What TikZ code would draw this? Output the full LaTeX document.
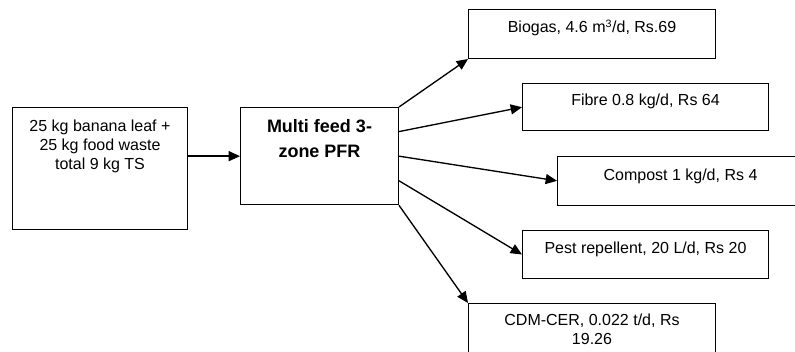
\documentclass[tikz,border=0pt]{standalone}
\usepackage{fontspec}
\setmainfont{Liberation Sans}
\usetikzlibrary{positioning, arrows.meta, calc}

\tikzset{
  box/.style = {draw, rectangle, line width=0.75pt, anchor=north west, inner sep=0pt},
  outbox/.style = {box, minimum width=184.5pt, minimum height=36.5pt},
  txt/.style = {inner sep=0pt, align=center, font=\fontsize{12}{14.25}\selectfont},
  boldtxt/.style = {txt, font=\fontsize{13.5}{18.75}\selectfont\bfseries},
}

\begin{document}
\begin{tikzpicture}[x=0.75pt, y=-0.75pt, >={Triangle[length=8.5pt, width=7.5pt]}, line width=1pt]
    \useasboundingbox (0,0) rectangle (795,352);
    \clip (0,0) rectangle (795,352);

    % feed and reactor
    \node[box, minimum width=131.25pt, minimum height=91.5pt] (feed) at (12,107) {};
    \node[box, minimum width=118.5pt, minimum height=73pt] (pfr) at (240,107) {};

    % products
    \node[outbox, minimum width=185.25pt, minimum height=36.75pt] (biogas) at (468,9) {};
    \node[outbox, minimum height=35.5pt] (fibre) at (522,83) {};
    \node[outbox, minimum height=36.5pt] (compost) at (557,156) {};
    \node[outbox, minimum height=36pt] (pest) at (522,230) {};
    \node[outbox, minimum width=185.25pt, minimum height=45pt] (cdm) at (468,303) {};

    % texts
    \node[txt] (feed-txt) [below = 9.2pt of feed.north] {25 kg banana leaf +\\25 kg food waste\\total 9 kg TS};
    \node[boldtxt] (pfr-txt) [below = 8.8pt of pfr.north] {Multi feed 3-\\zone PFR};
    \node[txt] (biogas-txt) [below = 8.8pt of biogas.north] {Biogas, 4.6 m\textsuperscript{\smash{3}}/d, Rs.69};
    \node[txt] (fibre-txt) [below = 7.5pt of fibre.north] {Fibre 0.8 kg/d, Rs 64};
    \node[txt] (compost-txt) [below = 9.4pt of compost.north] {Compost 1 kg/d, Rs 4};
    \node[txt] (pest-txt) [below = 8.8pt of pest.north] {Pest repellent, 20 L/d, Rs 20};
    \node[txt] (cdm-txt) [below = 8pt of cdm.north] {CDM-CER, 0.022 t/d, Rs\\19.26};

    \path[->]
      (feed.east |- pfr.west) edge (pfr.west)
      (pfr.north east) edge (biogas.south west)
      ($(pfr.north east)!0.25!(pfr.south east)$) edge (fibre.west)
      (pfr.east) edge (compost.west)
      ($(pfr.north east)!0.75!(pfr.south east)$) edge (pest.west)
      (pfr.south east) edge (cdm.north west)
    ;
\end{tikzpicture}
\end{document}
